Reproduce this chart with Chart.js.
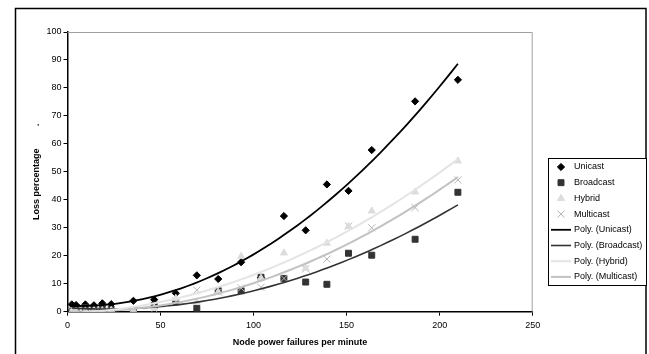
<!DOCTYPE html>
<html>
<head>
<meta charset="utf-8">
<script src="https://cdn.jsdelivr.net/npm/chart.js@4.4.0/dist/chart.umd.min.js"></script>
<style>
  html, body { margin: 0; padding: 0; background: #fff; }
</style>
</head>
<body>
<canvas id="lossChart" width="649" height="354"></canvas>
<script>
// node power failures per minute (x) shared by all series
const failureRates = [2.3, 4.6, 9.6, 14.2, 18.7, 23.5, 35.4, 46.6, 58.2, 69.5, 81, 93.3, 104, 116.3, 128, 139.4, 151, 163.5, 186.8, 209.8];
const unicastLoss   = [2.6, 2.4, 2.6, 2.3, 3.0, 2.7, 3.9, 4.3, 6.6, 13.0, 11.7, 17.7, 12.2, 34.2, 29.1, 45.5, 43.2, 57.8, 75.2, 82.9];
const broadcastLoss = [0.2, 0.3, 1.5, 1.0, 1.5, 0.8, 0.5, 2.3, 3.5, 1.2, 7.5, 7.5, 12.3, 11.9, 10.6, 9.8, 20.9, 20.2, 25.9, 42.7];
const hybridLoss    = [0.1, 0.2, 0.3, 0.5, 0.4, 0.5, 0.5, 1.3, 4.8, 3.3, 7.0, 19.8, 12.0, 21.0, 15.5, 24.5, 30.5, 36.0, 42.8, 53.9];
const multicastLoss = [0.1, 0.1, 0.3, 0.2, 0.3, 0.3, 0.3, 0.9, 3.8, 7.7, 7.0, 8.4, 8.7, 11.9, 15.3, 18.8, 30.6, 30.0, 37.2, 47.1];
const yTicks = [0, 10, 20, 30, 40, 50, 60, 70, 80, 90, 100];
const xTicks = [0, 50, 100, 150, 200, 250];

const FONT = 'Liberation Sans, Arial, sans-serif';

function toPoints(ys) {
  return failureRates.map((x, i) => ({ x: x, y: ys[i] }));
}

// least-squares 2nd order polynomial, like the spreadsheet "Poly." trendline
function polyFit(xs, ys) {
  let s = [0, 0, 0, 0, 0], t = [0, 0, 0];
  for (let i = 0; i < xs.length; i++) {
    let p = 1;
    for (let k = 0; k < 5; k++) { s[k] += p; if (k < 3) t[k] += p * ys[i]; p *= xs[i]; }
  }
  const m = [[s[0], s[1], s[2], t[0]], [s[1], s[2], s[3], t[1]], [s[2], s[3], s[4], t[2]]];
  for (let c = 0; c < 3; c++) {
    for (let r = c + 1; r < 3; r++) {
      const f = m[r][c] / m[c][c];
      for (let k = c; k < 4; k++) m[r][k] -= f * m[c][k];
    }
  }
  const a = [0, 0, 0];
  for (let r = 2; r >= 0; r--) {
    let v = m[r][3];
    for (let k = r + 1; k < 3; k++) v -= m[r][k] * a[k];
    a[r] = v / m[r][r];
  }
  return a;
}

function trend(ys) {
  const a = polyFit(failureRates, ys);
  const lo = failureRates[0], hi = failureRates[failureRates.length - 1];
  const pts = [];
  for (let i = 0; i <= 60; i++) {
    const x = lo + (hi - lo) * i / 60;
    pts.push({ x: x, y: a[0] + a[1] * x + a[2] * x * x });
  }
  return pts;
}

function markerSet(label, ys, style, color, radius) {
  return {
    label: label, data: toPoints(ys), showLine: false,
    pointStyle: style, pointRadius: radius, pointHoverRadius: radius,
    backgroundColor: color, borderColor: color, pointBorderWidth: 1
  };
}
function trendSet(label, ys, color, width) {
  return {
    label: label, data: trend(ys), showLine: true, pointRadius: 0,
    borderColor: color, backgroundColor: color, borderWidth: width, tension: 0
  };
}

const datasets = [
  trendSet('Poly. (Hybrid)', hybridLoss, '#e4e4e4', 2),
  trendSet('Poly. (Multicast)', multicastLoss, '#c2c2c2', 2),
  trendSet('Poly. (Broadcast)', broadcastLoss, '#333333', 1.6),
  trendSet('Poly. (Unicast)', unicastLoss, '#000000', 1.8),
  markerSet('Hybrid', hybridLoss, 'triangle', '#dcdcdc', 4),
  markerSet('Multicast', multicastLoss, 'crossRot', '#b4b4b4', 5),
  markerSet('Broadcast', broadcastLoss, 'rect', '#333333', 4.2),
  markerSet('Unicast', unicastLoss, 'rectRot', '#000000', 3.6)
];
const legendOrder = ['Unicast', 'Broadcast', 'Hybrid', 'Multicast',
  'Poly. (Unicast)', 'Poly. (Broadcast)', 'Poly. (Hybrid)', 'Poly. (Multicast)'];

const framePlugin = {
  id: 'frame',
  beforeDraw(chart) {
    const ctx = chart.ctx;
    ctx.save();
    ctx.fillStyle = '#fff';
    ctx.fillRect(0, 0, chart.width, chart.height);
    ctx.strokeStyle = '#000';
    ctx.lineWidth = 1.5;
    // outer chart frame, its bottom edge lies just below the canvas
    ctx.strokeRect(15.5, 8.5, 630.5, 350);
    ctx.restore();
  },
  beforeDatasetsDraw(chart) {
    const { ctx, chartArea: a } = chart;
    ctx.save();
    ctx.strokeStyle = '#a0a0a0';
    ctx.lineWidth = 1;
    ctx.beginPath();
    ctx.moveTo(a.left, a.top + 0.5);
    ctx.lineTo(a.right - 0.5, a.top + 0.5);
    ctx.lineTo(a.right - 0.5, a.bottom);
    ctx.stroke();
    ctx.restore();
  },
  afterDraw(chart) {
    const ctx = chart.ctx;
    const box = { x: 548, y: 158, w: 98, h: 127 };
    ctx.save();
    ctx.fillStyle = '#fff';
    ctx.fillRect(box.x, box.y, box.w, box.h);
    ctx.strokeStyle = '#000';
    ctx.lineWidth = 1;
    ctx.strokeRect(box.x + 0.5, box.y + 0.5, box.w, box.h);
    ctx.font = '9px ' + FONT;
    ctx.textBaseline = 'middle';
    ctx.fillStyle = '#000';
    legendOrder.forEach((name, i) => {
      const ds = chart.data.datasets.find(d => d.label === name);
      const y = 167 + i * 15.7;
      if (ds.showLine) {
        ctx.strokeStyle = ds.borderColor;
        ctx.lineWidth = ds.borderWidth;
        ctx.beginPath();
        ctx.moveTo(551, y);
        ctx.lineTo(571, y);
        ctx.stroke();
      } else {
        ctx.strokeStyle = ds.borderColor;
        ctx.fillStyle = ds.backgroundColor;
        ctx.lineWidth = 1;
        Chart.helpers.drawPoint(ctx, { pointStyle: ds.pointStyle, radius: ds.pointRadius, borderWidth: 1, rotation: 0 }, 561, y);
      }
      ctx.fillStyle = '#000';
      ctx.fillText(name, 574, y);
    });
    ctx.restore();
  }
};

new Chart(document.getElementById('lossChart').getContext('2d'), {
  type: 'scatter',
  data: { datasets: datasets },
  options: {
    responsive: false,
    animation: false,
    layout: { padding: { top: 32, right: 116.3, left: 0, bottom: 0 } },
    plugins: { legend: { display: false }, tooltip: { enabled: false } },
    scales: {
      x: {
        type: 'linear', min: 0, max: 250,
        afterBuildTicks: s => { s.ticks = xTicks.map(v => ({ value: v })); },
        afterFit: s => { s.height = 42.3; },
        grid: { drawOnChartArea: false, drawTicks: true, tickLength: 4, color: '#000' },
        border: { color: '#000', width: 1.5 },
        ticks: { color: '#000', font: { family: FONT, size: 9 }, padding: 4, maxRotation: 0 },
        title: { display: true, text: 'Node power failures per minute', color: '#000',
                 font: { family: FONT, size: 9, weight: 'bold' }, padding: { top: 0, bottom: 6 } }
      },
      y: {
        type: 'linear', min: 0, max: 100,
        afterBuildTicks: s => { s.ticks = yTicks.map(v => ({ value: v })); },
        afterFit: s => { s.width = 67.5; },
        grid: { drawOnChartArea: false, drawTicks: true, tickLength: 4, color: '#000' },
        border: { color: '#000', width: 1.5 },
        ticks: { color: '#000', font: { family: FONT, size: 9 }, padding: 2 },
        title: { display: true, text: 'Loss percentage         .', color: '#000',
                 font: { family: FONT, size: 9, weight: 'bold' }, padding: { top: 31, bottom: 0 } }
      }
    }
  },
  plugins: [framePlugin]
});
</script>
</body>
</html>
